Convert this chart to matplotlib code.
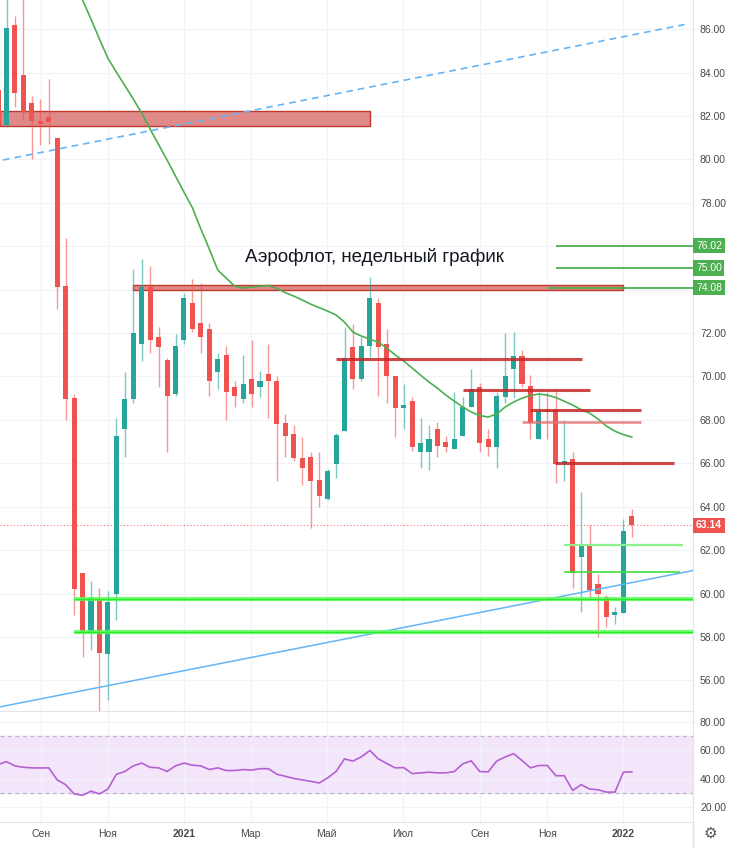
import numpy as np
import matplotlib
matplotlib.use('Agg')
import matplotlib.pyplot as plt
from matplotlib.patches import Rectangle
from matplotlib.lines import Line2D

plt.rcParams['font.family'] = ['Liberation Sans', 'DejaVu Sans']

# weekly candles, Aeroflot; index 0 = first full candle on the left edge
idx = np.arange(-1, 75)
opens = [83.2, 81.6, 86.2, 83.9, 82.6, 81.76, 81.95, 81.0, 74.16, 69.0, 60.95,
         58.2, 59.7, 57.2, 60.0, 67.6, 68.95, 71.5, 74.1, 71.8, 70.75,
         69.2, 71.7, 73.4, 72.45, 72.2, 70.2, 71.0, 69.5, 68.95, 69.9,
         69.5, 70.1, 69.8, 67.85, 67.35, 66.25, 66.3, 65.25, 64.35, 65.95,
         67.5, 71.35, 69.9, 71.4, 73.4, 71.5, 70.0, 68.55, 68.85, 66.5,
         66.5, 67.6, 66.98, 66.65, 67.25, 68.6, 69.5, 67.1, 66.75, 69.05,
         70.35, 70.95, 69.55, 67.1, 68.45, 68.45, 65.95, 66.2, 61.7, 62.2,
         60.45, 59.85, 59.0, 59.1, 63.55]
highs = [83.5, 87.5, 86.6, 87.5, 82.9, 82.8, 83.7, 81.0, 76.4, 69.2, 60.95,
         60.6, 60.25, 60.1, 68.1, 70.2, 74.95, 75.4, 75.1, 72.3, 70.85,
         71.95, 73.85, 74.5, 74.3, 72.45, 71.07, 71.4, 69.8, 71.0, 71.7,
         70.25, 71.5, 70.0, 68.25, 67.75, 67.2, 66.5, 66.5, 65.75, 67.4,
         72.3, 72.4, 71.8, 74.6, 73.6, 72.2, 70.0, 69.65, 69.05, 68.1,
         67.75, 67.9, 67.25, 69.3, 69.05, 70.35, 69.7, 67.6, 69.3, 72.0,
         72.05, 71.2, 70.05, 69.3, 69.3, 69.4, 68.0, 66.5, 64.7, 63.15,
         60.9, 59.95, 59.4, 63.45, 63.9]
lows = [81.4, 81.5, 82.4, 81.8, 80.0, 80.65, 80.7, 73.1, 68.0, 59.0, 57.1,
        57.4, 54.6, 55.1, 58.8, 66.3, 68.8, 70.7, 71.1, 69.5, 66.5,
        69.1, 71.5, 72.05, 71.1, 69.1, 69.4, 68.0, 68.6, 68.8, 68.6,
        69.05, 68.1, 65.2, 66.3, 66.1, 65.0, 63.0, 64.0, 64.3, 65.3,
        67.5, 69.4, 69.8, 70.9, 69.1, 68.8, 67.2, 67.6, 66.55, 65.8,
        65.7, 66.3, 66.5, 66.65, 67.25, 68.6, 66.5, 66.35, 65.8, 68.8,
        69.0, 69.5, 67.1, 67.1, 67.1, 65.1, 65.2, 60.25, 59.15, 59.8,
        58.0, 58.45, 58.6, 59.1, 62.6]
closes = [81.6, 86.05, 83.05, 82.2, 81.76, 81.65, 81.7, 74.1, 68.96, 60.2, 58.2,
          59.8, 57.26, 59.6, 67.25, 68.95, 72.0, 74.1, 71.7, 71.35, 69.1,
          71.4, 73.6, 72.2, 71.8, 69.8, 70.8, 69.3, 69.1, 69.65, 69.2,
          69.8, 69.8, 67.8, 67.25, 66.25, 65.8, 65.2, 64.5, 65.65, 67.3,
          70.85, 69.9, 71.4, 73.6, 71.35, 70.0, 68.55, 68.7, 66.75, 66.93,
          67.1, 66.8, 66.75, 67.1, 68.6, 69.4, 66.93, 66.75, 69.1, 70.0,
          70.95, 69.65, 67.85, 68.4, 68.35, 65.95, 66.1, 60.95, 62.2, 60.15,
          60.0, 58.9, 59.15, 62.9, 63.14]

# moving average (green)
ma_idx = np.arange(8, 75)
ma_vals = [88.3, 87.34, 86.46, 85.54, 84.66, 84.02, 83.4, 82.78, 82.13, 81.39,
           80.68, 79.97, 79.23, 78.49, 77.77, 76.79, 75.87, 74.9, 74.53, 74.16,
           74.07, 74.12, 74.16, 74.19, 74.05, 73.86, 73.7, 73.52, 73.33, 73.17,
           73.01, 72.83, 72.5, 72.04, 71.86, 71.72, 71.58, 71.31, 70.99, 70.71,
           70.39, 70.06, 69.74, 69.46, 69.14, 68.86, 68.59, 68.36, 68.2, 68.13,
           68.27, 68.59, 68.82, 69.0, 69.12, 69.19, 69.14, 69.03, 68.86, 68.68,
           68.47, 68.31, 68.04, 67.71, 67.48, 67.32, 67.21]

# RSI, same index as candles
rsi_vals = [50, 52, 49, 48, 47.6, 47.5, 47.6, 39, 35.6, 29, 28, 31, 29, 32.5, 43,
            45, 49, 51, 48, 47.6, 45, 49, 51, 49.5, 49, 46.4, 47.6, 45.7, 45.7,
            46.4, 46, 47, 47, 43, 41.6, 40, 39, 38, 36.8, 40.4, 45, 54, 52.4,
            55.5, 60, 54, 50.7, 47.6, 47.8, 43.5, 44, 44.5, 44, 44, 45, 50.5,
            52.6, 45, 44.7, 52.4, 55.3, 57.7, 52.9, 47.6, 49.3, 49.3, 42, 42,
            31.5, 35.6, 32.5, 32, 30.3, 30.3, 44.5, 44.7]

month_pos = [4.1, 12.0, 21.0, 28.9, 37.9, 46.9, 56.0, 64.0, 73.0]
month_lbl = ['Сен', 'Ноя', '2021', 'Мар', 'Май', 'Июл', 'Сен', 'Ноя', '2022']

# drawings: (price, start index, end index)
red_levels = [(70.82, 39.0, 68.1), (69.37, 54.0, 69.0), (68.47, 62.0, 75.1), (66.0, 64.9, 79.0)]
pink_level = (67.9, 61.0, 75.1)
green_labels = [76.02, 75.00, 74.08]
green_starts = [65.0, 65.0, 64.1]
support_levels = [59.75, 58.25]
thin_levels = [(62.23, 66.0, 80.1), (60.98, 66.0, 79.7)]
zone_upper = (81.55, 82.24, -0.77, 43.0)
zone_74 = (74.0, 74.2, 15.0, 73.0)
trend_dashed = ([-0.41, 80.5], [79.97, 86.23])
trend_solid = ([-0.77, 81.24], [54.78, 61.06])
last_price = 63.14

UP = '#26a69a'
DOWN = '#ef5350'
XLIM = (-0.77, 81.24)

fig = plt.figure(figsize=(7.3, 8.48), dpi=100)
ax = fig.add_axes([0, 1 - 711 / 848, 693 / 730, 711 / 848])
rx = fig.add_axes([0, 26 / 848, 693 / 730, 109 / 848])

# ---- main panel
ax.set_xlim(*XLIM)
ax.set_ylim(54.59, 87.34)
for p in range(56, 88, 2):
    ax.axhline(p, color='#f0f3fa', lw=0.9, zorder=0)
for m in month_pos:
    ax.axvline(m, color='#f0f3fa', lw=0.9, zorder=0)

o = np.array(opens)
c = np.array(closes)
cols = np.where(c >= o, UP, DOWN)
ax.vlines(idx, lows, highs, colors=cols, lw=1, alpha=0.6, zorder=3)
body = np.maximum(np.abs(c - o), 0.08)
ax.bar(idx, body, bottom=np.minimum(o, c), width=0.6, color=cols, zorder=3)

z = zone_upper
ax.add_patch(Rectangle((z[2], z[0]), z[3] - z[2], z[1] - z[0], fc='#e08989',
                       ec='#c0392b', lw=1, zorder=2))
z = zone_74
ax.add_patch(Rectangle((z[2], z[0]), z[3] - z[2], z[1] - z[0], fc='#e08989',
                       ec='#c0392b', lw=1, zorder=2))

ax.plot(trend_dashed[0], trend_dashed[1], color='#64b5f6', lw=1.2,
        dashes=(4, 3), zorder=4)
ax.plot(trend_solid[0], trend_solid[1], color='#64b5f6', lw=1.1, zorder=4)

ax.plot(ma_idx, ma_vals, color='#4caf50', lw=1.2, zorder=4)

for p, a, b in red_levels:
    ax.hlines(p, a, b, color='#c62828', lw=2.2, alpha=0.85, zorder=4)
ax.hlines(pink_level[0], pink_level[1], pink_level[2], color='#e57373', lw=1.8,
          alpha=0.85, zorder=4)

for p, s in zip(green_labels, green_starts):
    ax.hlines(p, s, XLIM[1], color='#4caf50', lw=1.3, zorder=4)
    ax.text(1.0043, p, f'{p:.2f}', transform=ax.get_yaxis_transform(),
            ha='left', va='center', color='white', fontsize=7.5,
            bbox=dict(boxstyle='square,pad=0.25', fc='#4caf50', ec='none'))

for p in support_levels:
    ax.hlines(p, 8.0, XLIM[1], color='#5cff5c', lw=3, alpha=0.85, zorder=4)
    ax.hlines(p, 8.0, XLIM[1], color='#2ee62e', lw=1.0, zorder=4)
ax.hlines(thin_levels[0][0], thin_levels[0][1], thin_levels[0][2],
          color='#8ef08e', lw=1.6, zorder=4)
ax.hlines(thin_levels[1][0], thin_levels[1][1], thin_levels[1][2],
          color='#3fe03f', lw=1.2, zorder=4)

ax.axhline(last_price, color=DOWN, lw=0.8, ls=(0, (1, 2)), alpha=0.8, zorder=2)
ax.text(1.0043, last_price, f'{last_price:.2f}', transform=ax.get_yaxis_transform(),
        ha='left', va='center', color='white', fontsize=7.5, fontweight='bold',
        bbox=dict(boxstyle='square,pad=0.25', fc=DOWN, ec='none'))

ax.text(43.6, 75.5, 'Аэрофлот, недельный график', ha='center', va='center',
        fontsize=13.5, color='#131722', zorder=6)

ax.yaxis.tick_right()
ax.set_yticks([56, 58, 60, 62, 64, 66, 68, 70, 72, 78, 80, 82, 84, 86])
ax.set_yticklabels([f'{v:.2f}' for v in ax.get_yticks()])
ax.tick_params(axis='y', length=0, pad=5, labelsize=7.5, colors='#4a4a4a')
ax.set_xticks([])
for s in ['top', 'left']:
    ax.spines[s].set_visible(False)
ax.spines['right'].set_color('#e0e3eb')
ax.spines['bottom'].set_color('#e0e3eb')

# ---- RSI panel
rx.set_xlim(*XLIM)
rx.set_ylim(9, 86.7)
rx.axhspan(30, 70, color='#f3e6fb', zorder=0)
for v in (20, 40, 60, 80):
    rx.axhline(v, color='#f0f3fa', lw=0.9, zorder=0)
for m in month_pos:
    rx.axvline(m, color='#f0f3fa', lw=0.9, zorder=0)
rx.axhline(70, color='#b8b8c4', lw=0.9, ls=(0, (3, 3)), zorder=1)
rx.axhline(30, color='#b8b8c4', lw=0.9, ls=(0, (3, 3)), zorder=1)
rx.plot(idx, rsi_vals, color='#b460d2', lw=1.2, zorder=3)

rx.yaxis.tick_right()
rx.set_yticks([20, 40, 60, 80])
rx.set_yticklabels(['20.00', '40.00', '60.00', '80.00'])
rx.tick_params(axis='y', length=0, pad=5, labelsize=7.5, colors='#4a4a4a')
rx.set_xticks(month_pos)
rx.set_xticklabels(month_lbl)
rx.tick_params(axis='x', length=0, pad=5, labelsize=7.5, colors='#4a4a4a')
for t in rx.get_xticklabels():
    if t.get_text().startswith('20'):
        t.set_fontweight('bold')
for s in ['top', 'left']:
    rx.spines[s].set_visible(False)
rx.spines['right'].set_color('#e0e3eb')
rx.spines['bottom'].set_color('#e0e3eb')

fig.add_artist(Line2D([693 / 730, 693 / 730], [0, 26 / 848], color='#e0e3eb', lw=1))
fig.text(710 / 730, 1 - 833 / 848, '⚙', ha='center', va='center', fontsize=11,
         color='#555555', family=['DejaVu Sans'])

fig.savefig('out.png', dpi=100, facecolor='white')
